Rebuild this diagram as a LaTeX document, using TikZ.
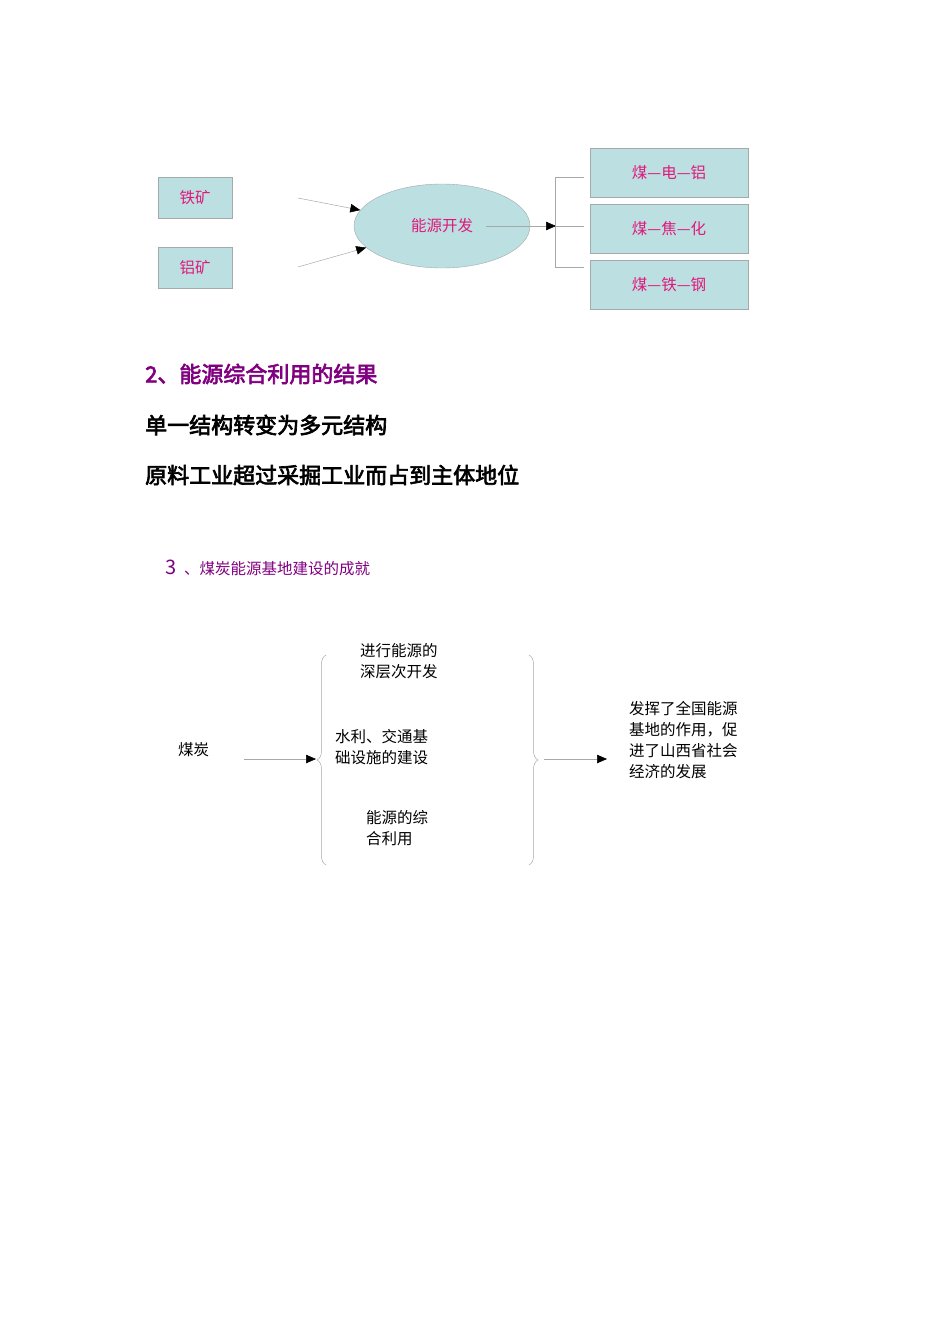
\documentclass[tikz,border=0pt]{standalone}
\usepackage{fontspec}
\setmainfont{Noto Sans CJK SC}
\newfontfamily\headfont[FakeBold=3]{Noto Sans CJK SC}
\usetikzlibrary{shapes.geometric,arrows.meta,decorations.pathreplacing}
\definecolor{boxfill}{HTML}{BCDFE1}
\definecolor{boxline}{HTML}{A3AAAA}
\definecolor{pinktext}{HTML}{E0187C}
\definecolor{headpurple}{HTML}{800080}
\definecolor{thinline}{HTML}{A8A8A8}

\begin{document}
\begin{tikzpicture}[x=1pt,y=-1pt,
    orebox/.style={draw=boxline,fill=boxfill,minimum width=74pt,minimum height=41pt,inner sep=0pt,text=pinktext,font=\fontsize{15.5}{18}\selectfont},
    chainbox/.style={orebox,minimum width=158pt,minimum height=49pt},
    arr/.style={draw=thinline,line width=0.5pt,-{Triangle[color=black,length=10pt,width=8.5pt]}},
    gline/.style={draw=thinline,line width=0.5pt},
    txt/.style={anchor=west,inner sep=0pt,align=left,font=\fontsize{15.5}{21}\selectfont},
    bigtxt/.style={anchor=west,inner sep=0pt,font=\headfont\fontsize{22}{26}\selectfont}]
  \useasboundingbox (0,0) rectangle (950,1344);
  % top diagram
  \node[orebox] (tie) at (195,197.5) {铁矿};
  \node[orebox] (lv) at (195,267.5) {铝矿};
  \node[ellipse,draw=boxline,fill=boxfill,minimum width=176pt,minimum height=84pt,inner sep=0pt,text=pinktext,font=\fontsize{15.5}{18}\selectfont] (energy) at (442,226) {能源开发};
  \coordinate (in1) at (298,198);
  \coordinate (in2) at (298,267);
  \draw[arr] (in1) -- (energy);
  \draw[arr] (in2) -- (energy);
  \node[chainbox] (dian) at (669,173) {煤—电—铝};
  \node[chainbox] (jiao) at (669,228.5) {煤—焦—化};
  \node[chainbox] (gang) at (669,284.5) {煤—铁—钢};
  \coordinate (fork) at (556,226);
  \draw[arr] ([xshift=44pt]energy.center) -- (fork);
  \draw[gline] (fork) -- (584,226);
  \draw[gline] (584,177) -| (555,267) -- (584,267);
  % headings
  \node[bigtxt,text=headpurple] (head2) at (145,374) {2、能源综合利用的结果};
  \node[bigtxt] (line1) at (145,425) {单一结构转变为多元结构};
  \node[bigtxt] (line2) at (145,475) {原料工业超过采掘工业而占到主体地位};
  \node[anchor=west,inner sep=0pt,text=headpurple,font=\fontsize{20}{24}\selectfont] (num3) at (165,567) {3};
  \node[anchor=west,inner sep=0pt,text=headpurple,font=\fontsize{15.5}{18}\selectfont] (head3) at (184,569) {、煤炭能源基地建设的成就};
  % bottom diagram
  \node[txt] (coal) at (178,750) {煤炭};
  \node[txt] (deep) at (360,661.5) {进行能源的\\深层次开发};
  \node[txt] (infra) at (335,747.5) {水利、交通基\\础设施的建设};
  \node[txt] (use) at (366,828.5) {能源的综\\合利用};
  \node[txt] (result) at (629,740.5) {发挥了全国能源\\基地的作用，促\\进了山西省社会\\经济的发展};
  \coordinate (c1) at (244,759);
  \coordinate (c2) at (316,759);
  \coordinate (c3) at (544,759);
  \coordinate (c4) at (607,759);
  \draw[arr] (c1) -- (c2);
  \draw[arr] (c3) -- (c4);
  \draw[gline,decoration={brace,amplitude=9pt},decorate] (326,865) -- (326,655);
  \draw[gline,decoration={brace,amplitude=9pt},decorate] (529,655) -- (529,865);
\end{tikzpicture}
\end{document}
